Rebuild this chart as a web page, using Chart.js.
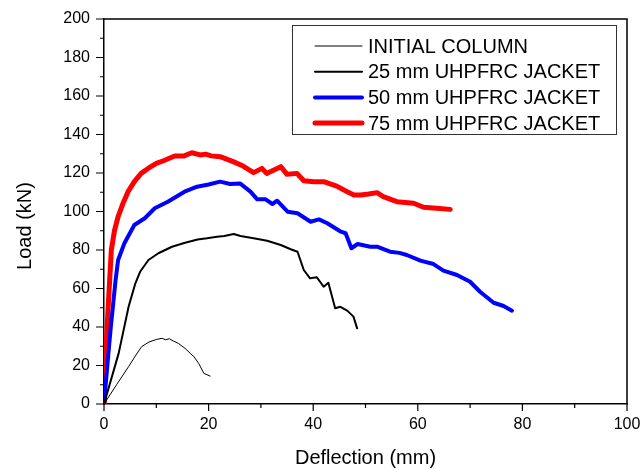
<!DOCTYPE html>
<html>
<head>
<meta charset="utf-8">
<script src="https://cdn.jsdelivr.net/npm/chart.js@4"></script>
<style>
  body { margin: 0; background: #fff; }
  #wrap { width: 640px; height: 470px; position: relative; }
</style>
</head>
<body>
<div id="wrap"><canvas id="loadChart"></canvas></div>
<script>
// data
const seriesNames = ["INITIAL COLUMN", "25 mm UHPFRC JACKET", "50 mm UHPFRC JACKET", "75 mm UHPFRC JACKET"];

const initialX = [0, 2.4, 4.7, 6, 7.2, 8.6, 10.1, 11.1, 11.8, 12.5, 13.2, 14.2, 15.5, 16.5, 17.2, 18.1, 19.1, 20.3];
const initialY = [0, 10, 19.4, 25, 29.8, 32.2, 33.6, 34.1, 33.4, 33.9, 32.8, 31.5, 28.9, 26.3, 24.6, 21.1, 15.9, 14.5];

const jacket25X = [0, 2.8, 4.7, 6.0, 6.9, 8.5, 10.4, 13.0, 15.5, 17.9, 19.7, 21.6, 23, 24.8, 26.1, 28.6, 31.2, 33.8, 35.7, 37.0, 38.2, 39.4, 40.7, 42.0, 42.9, 44.2, 45.2, 46.5, 47.7, 48.4];
const jacket25Y = [0, 26.3, 50.5, 62.7, 68.7, 74.8, 78.3, 81.7, 83.8, 85.5, 86.1, 86.9, 87.3, 88.3, 87.3, 86.1, 84.8, 82.6, 80.4, 79.1, 69.6, 65.3, 65.8, 60.9, 63.0, 49.7, 50.5, 48.5, 45.4, 39.3];

const jacket50X = [0, 0.8, 1.3, 1.7, 2.2, 2.7, 3.9, 5.8, 7.8, 9.7, 12.2, 15.4, 17.8, 20, 22.2, 24.1, 26.0, 28.0, 29.3, 30.9, 32.2, 33.1, 35.1, 37.0, 39.5, 41.1, 42.7, 45.3, 46.2, 47.3, 48.5, 50.9, 52.2, 54.7, 56.5, 57.9, 60.5, 63.0, 64.9, 67.5, 70.0, 71.9, 74.5, 76.4, 78.0];
const jacket50Y = [0, 25, 40, 50.5, 64, 74.8, 83.5, 93, 96.5, 101.7, 105.1, 110.3, 112.9, 114, 115.5, 114.3, 114.6, 110.3, 106.3, 106.3, 103.9, 105.6, 99.9, 99.1, 94.7, 95.9, 93.9, 89.5, 88.7, 80.9, 83.1, 81.7, 81.7, 79.1, 78.5, 77.4, 74.5, 72.7, 69.3, 67, 63.5, 58.3, 52.6, 50.9, 48.5];

const jacket75X = [0, 0.1, 0.5, 0.8, 1.4, 2.0, 2.7, 3.6, 4.6, 5.8, 7.1, 8.5, 10, 11.5, 13.5, 15.2, 16.8, 18.4, 19.4, 20.5, 22.2, 24.7, 26.6, 28.6, 30.2, 31.1, 33.8, 35, 36.9, 38.2, 40.1, 42, 44.5, 46.5, 47.8, 49.1, 50.6, 52.2, 53.4, 56, 59.2, 61.1, 63.6, 66.2];
const jacket75Y = [0, 12.5, 35, 50.5, 80, 90, 97.3, 104, 110.3, 115.5, 119.8, 122.5, 125, 126.5, 128.8, 128.8, 130.5, 129.4, 129.8, 128.9, 128.5, 125.9, 123.6, 120.2, 122.4, 119.8, 123.3, 119.3, 119.8, 116, 115.5, 115.5, 113.2, 110.3, 108.6, 108.6, 109.1, 109.8, 107.7, 105.1, 104.3, 102.2, 101.7, 101.1];

const xTicks = [0, 20, 40, 60, 80, 100];
const yTicks = [0, 20, 40, 60, 80, 100, 120, 140, 160, 180, 200];

function toPoints(xs, ys) {
    return xs.map((x, i) => ({ x: x, y: ys[i] }));
}

const FONT = "'Liberation Sans', Arial, sans-serif";

// frame, tick marks, axis titles and the legend box
const decorPlugin = {
    id: "decor",
    afterDraw(chart) {
        const ctx = chart.ctx;
        const area = chart.chartArea;
        const xs = chart.scales.x;
        const ys = chart.scales.y;
        ctx.save();
        ctx.strokeStyle = "#000";
        ctx.lineWidth = 1.5;
        ctx.beginPath();
        ctx.moveTo(area.left, area.top);
        ctx.lineTo(area.right, area.top);
        ctx.lineTo(area.right, area.bottom);
        ctx.stroke();

        // ticks: major every 20, minor every 10, pointing outward
        ctx.lineWidth = 1.2;
        ctx.beginPath();
        for (let v = 0; v <= 100; v += 10) {
            const px = xs.getPixelForValue(v);
            const len = v % 20 === 0 ? 7 : 4;
            ctx.moveTo(px, area.bottom);
            ctx.lineTo(px, area.bottom + len);
        }
        for (let v = 0; v <= 200; v += 10) {
            const py = ys.getPixelForValue(v);
            const len = v % 20 === 0 ? 8 : 4;
            ctx.moveTo(area.left, py);
            ctx.lineTo(area.left - len, py);
        }
        ctx.stroke();

        // axis titles
        ctx.fillStyle = "#000";
        ctx.font = "20px " + FONT;
        ctx.textAlign = "center";
        ctx.textBaseline = "middle";
        ctx.fillText("Deflection (mm)", (area.left + area.right) / 2, 458);
        ctx.save();
        ctx.translate(25, 226);
        ctx.rotate(-Math.PI / 2);
        ctx.fillText("Load (kN)", 0, 0);
        ctx.restore();

        // legend
        ctx.strokeStyle = "#333";
        ctx.lineWidth = 1;
        ctx.strokeRect(292.5, 25.5, 324, 109);
        ctx.textAlign = "left";
        chart.data.datasets.forEach((ds, i) => {
            const cy = 46 + i * 25.7;
            ctx.strokeStyle = ds.borderColor;
            ctx.lineWidth = ds.borderWidth;
            ctx.lineCap = "round";
            ctx.beginPath();
            ctx.moveTo(315, cy);
            ctx.lineTo(362, cy);
            ctx.stroke();
            ctx.fillStyle = "#000";
            ctx.fillText(ds.label, 368, cy + 1);
        });
        ctx.restore();
    }
};

const ctx1 = document.getElementById("loadChart").getContext("2d");
new Chart(ctx1, {
    type: "line",
    data: {
        datasets: [
            { label: seriesNames[0], data: toPoints(initialX, initialY), borderColor: "#000000", borderWidth: 1 },
            { label: seriesNames[1], data: toPoints(jacket25X, jacket25Y), borderColor: "#000000", borderWidth: 2 },
            { label: seriesNames[2], data: toPoints(jacket50X, jacket50Y), borderColor: "#0000ff", borderWidth: 4 },
            { label: seriesNames[3], data: toPoints(jacket75X, jacket75Y), borderColor: "#ff0000", borderWidth: 5 }
        ]
    },
    options: {
        responsive: true,
        maintainAspectRatio: false,
        animation: false,
        elements: {
            point: { radius: 0 },
            line: { tension: 0, borderJoinStyle: "round", borderCapStyle: "round" }
        },
        layout: { padding: { top: 19, right: 13, left: 0, bottom: 0 } },
        plugins: {
            legend: { display: false },
            tooltip: { enabled: false }
        },
        scales: {
            x: {
                type: "linear",
                min: 0,
                max: 100,
                afterFit: (s) => { s.height = 66; s.paddingLeft = 0; s.paddingRight = 0; },
                afterBuildTicks: (s) => { s.ticks = xTicks.map(v => ({ value: v })); },
                grid: { display: false, drawTicks: false },
                border: { display: true, color: "#000", width: 1.5 },
                ticks: { color: "#000", font: { family: FONT, size: 16 }, padding: 11, maxRotation: 0 }
            },
            y: {
                min: 0,
                max: 200,
                afterFit: (s) => { s.width = 104; s.paddingTop = 0; s.paddingBottom = 0; },
                afterBuildTicks: (s) => { s.ticks = yTicks.map(v => ({ value: v })); },
                grid: { display: false, drawTicks: false },
                border: { display: true, color: "#000", width: 1.5 },
                ticks: { color: "#000", font: { family: FONT, size: 16 }, padding: 14 }
            }
        }
    },
    plugins: [decorPlugin]
});
</script>
</body>
</html>
